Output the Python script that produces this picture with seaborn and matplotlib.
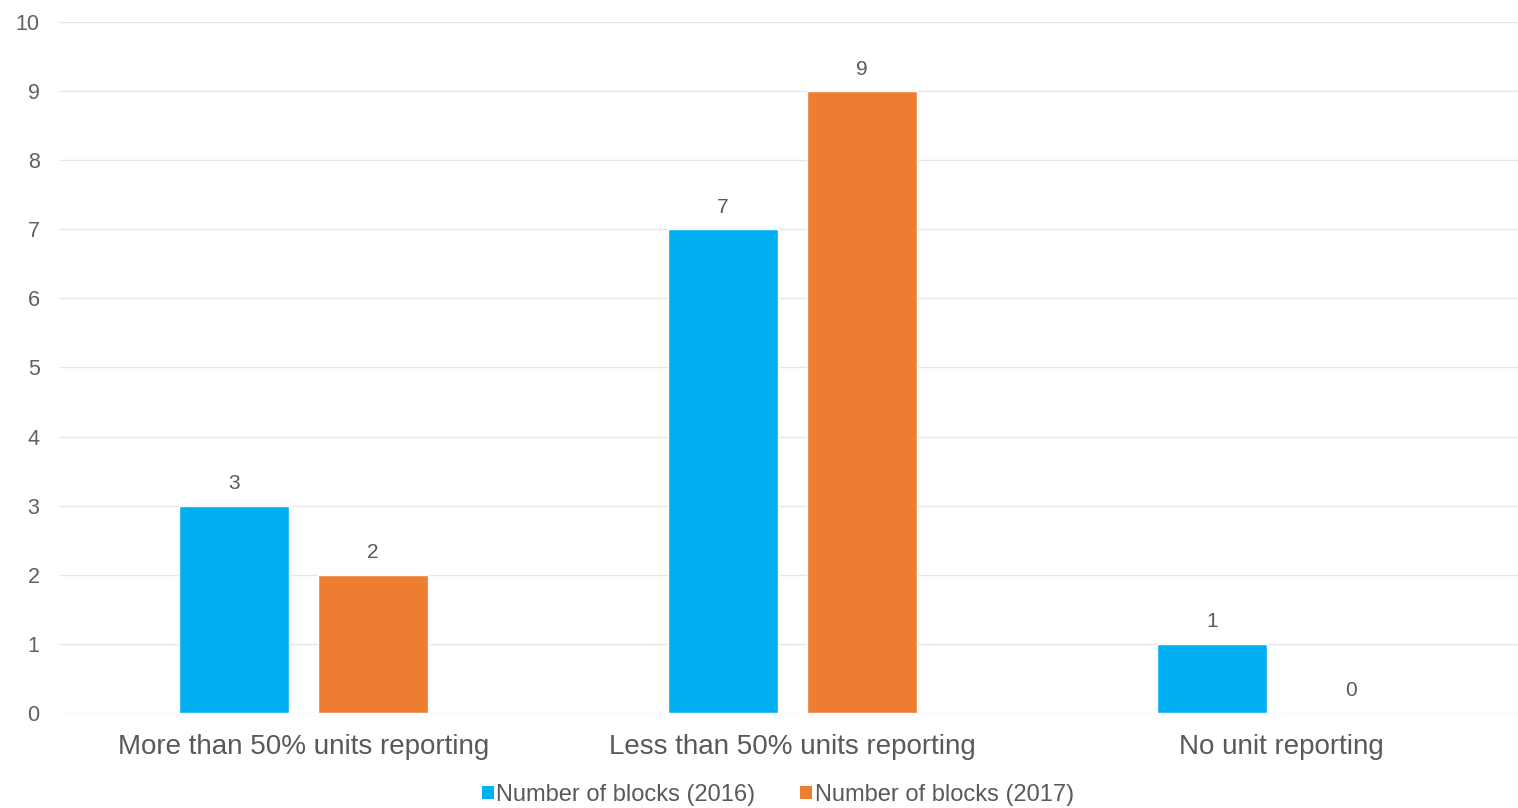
import matplotlib
matplotlib.use("Agg")
import matplotlib.pyplot as plt
import seaborn as sns
import pandas as pd
from matplotlib.patches import Patch

categories = ["More than 50% units reporting", "Less than 50% units reporting", "No unit reporting"]
series_names = ["Number of blocks (2016)", "Number of blocks (2017)"]
values_2016 = [3, 7, 1]
values_2017 = [2, 9, 0]
colors = ["#00B0F0", "#ED7D31"]

df = pd.DataFrame({
    "category": categories * 2,
    "series": [series_names[0]] * 3 + [series_names[1]] * 3,
    "value": values_2016 + values_2017,
})

sns.set_theme(style="white")
plt.rcParams['font.family'] = ['Liberation Sans', 'DejaVu Sans']

fig = plt.figure(figsize=(15.18, 8.08), dpi=100)
ax = fig.add_axes([0.0389, 0.1176, 0.9664, 0.8552])

sns.barplot(data=df, x="category", y="value", hue="series", order=categories,
            hue_order=series_names, palette=colors, width=0.568, gap=0.209,
            saturation=1, ax=ax, legend=False, errorbar=None)

for cont in ax.containers:
    ax.bar_label(cont, fmt="%d", padding=9, fontsize=15, color="#595959")

ax.set_ylim(0, 10)
ax.set_xlim(-0.5, 2.5)
ax.set_yticks(range(0, 11))
ax.yaxis.grid(True, color="#E6E6E6", linewidth=1)
ax.set_axisbelow(True)
for s in ax.spines.values():
    s.set_visible(False)
ax.tick_params(axis="y", length=0, pad=14, labelsize=15.5, labelcolor="#606060")
ax.tick_params(axis="x", length=0, pad=15, labelsize=20, labelcolor="#595959")
ax.set_xlabel("")
ax.set_ylabel("")

handles = [Patch(facecolor=c, edgecolor="none") for c in colors]
fig.legend(handles, series_names, loc="center", bbox_to_anchor=(0.5125, 0.016),
           ncol=2, frameon=False, fontsize=17, labelcolor="#595959",
           handlelength=0.5, handleheight=0.5, handletextpad=0.12, columnspacing=1.9,
           borderpad=0)

fig.savefig("out.png", dpi=100)
